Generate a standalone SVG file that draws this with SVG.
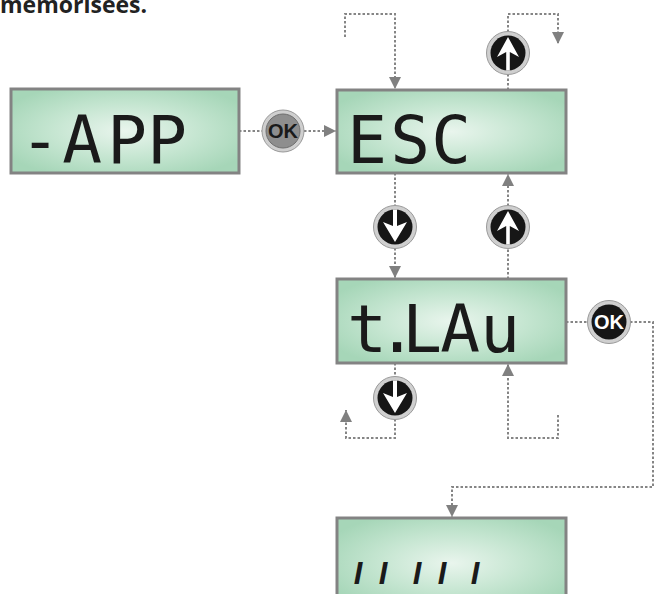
<svg xmlns="http://www.w3.org/2000/svg" width="654" height="594" viewBox="0 0 654 594">
<defs>
<radialGradient id="lcd" cx="0.5" cy="0.5" r="0.6">
<stop offset="0" stop-color="#e9f5ed"/>
<stop offset="0.55" stop-color="#c4e5d0"/>
<stop offset="1" stop-color="#a6d6b8"/>
</radialGradient>
<marker id="ah" markerUnits="userSpaceOnUse" markerWidth="12" markerHeight="12" viewBox="0 0 10 10" refX="10" refY="5" orient="auto">
<path d="M0,0 L10,5 L0,10 Z" fill="#808080"/>
</marker>
<path id="arrUp" d="M0,-16 L11,4 L1.8,-1 L1.8,17.5 L-1.8,17.5 L-1.8,-1 L-11,4 Z" fill="#fff"/>
<path id="arrDown" d="M-2,-17.5 L2,-17.5 L2,-1 L12,-5 L0,15 L-12,-5 L-2,-1 Z" fill="#fff"/>
</defs>
<style>
.title{font-family:"Open Sans","Liberation Sans",sans-serif;font-weight:bold;font-size:23px;fill:#222}
.lcd{fill:url(#lcd);stroke:#838383;stroke-width:3}
.seg{font-family:"DejaVu Sans Mono","Liberation Mono",monospace;font-size:66px;fill:#1a1a1a;text-anchor:middle}
.bars{font-family:"Liberation Sans",sans-serif;font-weight:bold;font-style:italic;font-size:31px;fill:#1a1a1a;text-anchor:middle}
.ring{fill:#cfcfcf;stroke:#9a9a9a;stroke-width:1}
.blk{fill:#161616}
.gry{fill:#8e8e8e;stroke:#6e6e6e;stroke-width:1}
.ok{font-family:"Liberation Sans",sans-serif;font-weight:bold;font-size:20px;text-anchor:middle}
.con{fill:none;stroke:#858585;stroke-width:2;stroke-dasharray:2.5 2}
</style>
<text class="title" x="0" y="13">mémorisées.</text>

<g id="connectors">
<path class="con" d="M239,131 H262"/>
<path class="con" d="M304,131 H336" marker-end="url(#ah)"/>
<path class="con" d="M345,37 V14 H395 V89" marker-end="url(#ah)"/>
<path class="con" d="M508,90 V74"/>
<path class="con" d="M508,32 V14 H558 V44" marker-end="url(#ah)"/>
<path class="con" d="M395,173 V206"/>
<path class="con" d="M395,248 V278" marker-end="url(#ah)"/>
<path class="con" d="M508,279 V248"/>
<path class="con" d="M508,206 V174" marker-end="url(#ah)"/>
<path class="con" d="M395,363 V377"/>
<path class="con" d="M395,419 V438 H346 V410" marker-end="url(#ah)"/>
<path class="con" d="M558,415 V438 H508 V364" marker-end="url(#ah)"/>
<path class="con" d="M566,322 H588"/>
<path class="con" d="M630,322 H653 V487 H452 V517" marker-end="url(#ah)"/>
</g>

<g id="disp-app">
<rect class="lcd" x="11" y="89" width="228" height="84"/>
<text class="seg" x="40 82 127 167" y="163">-APP</text>
</g>
<g id="btn-ok1" transform="translate(283,131)">
<circle class="ring" r="21"/>
<circle class="gry" r="17"/>
<text class="ok" y="7" fill="#1a1a1a">OK</text>
</g>
<g id="disp-esc">
<rect class="lcd" x="337" y="90" width="229" height="83"/>
<text class="seg" x="367 410 451" y="163">ESC</text>
</g>
<g id="btn-up1" transform="translate(508,53)">
<circle class="ring" r="21.5"/>
<circle class="blk" r="17.5"/>
<use href="#arrUp"/>
</g>
<g id="btn-down1" transform="translate(395,227)">
<circle class="ring" r="21.5"/>
<circle class="blk" r="17.5"/>
<use href="#arrDown"/>
</g>
<g id="btn-up2" transform="translate(508,227)">
<circle class="ring" r="21.5"/>
<circle class="blk" r="17.5"/>
<use href="#arrUp"/>
</g>
<g id="disp-tlau">
<rect class="lcd" x="337" y="279" width="229" height="84"/>
<text class="seg" x="367 397 422 460 500" y="352">t.LAu</text>
</g>
<g id="btn-ok2" transform="translate(609,322)">
<circle class="ring" r="21.5"/>
<circle class="blk" r="17.5"/>
<text class="ok" y="7" fill="#ffffff">OK</text>
</g>
<g id="btn-down2" transform="translate(395,398)">
<circle class="ring" r="21.5"/>
<circle class="blk" r="17.5"/>
<use href="#arrDown"/>
</g>
<g id="disp-bars">
<rect class="lcd" x="337" y="518" width="229" height="90"/>
<text class="bars" x="358 383 417 442 475" y="584">IIIII</text>
</g>
</svg>
